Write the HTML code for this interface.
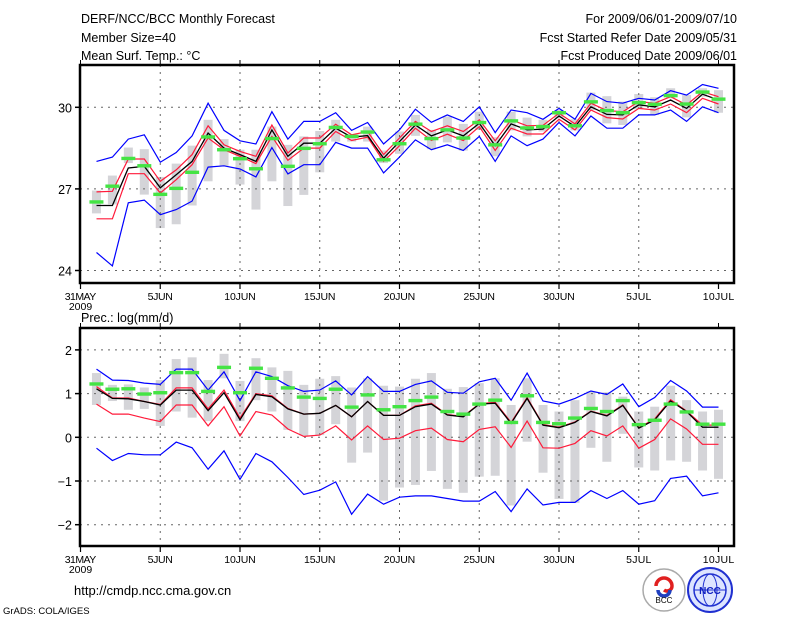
<!DOCTYPE html>
<html><head><meta charset="utf-8">
<style>
html,body{margin:0;padding:0;background:#fff;}
body{width:800px;height:618px;overflow:hidden;position:relative;font-family:"Liberation Sans",sans-serif;}
svg{position:absolute;left:0;top:0;}
</style></head>
<body>
<svg id="chart" width="800" height="618" viewBox="0 0 800 618"></svg>
<script>
// ---------- data ----------
const days = [1,2,3,4,5,6,7,8,9,10,11,12,13,14,15,16,17,18,19,20,21,22,23,24,25,26,27,28,29,30,31,32,33,34,35,36,37,38,39,40];
const xTickDays = [0,5,10,15,20,25,30,35,40];
const xTickLabels = ["31MAY","5JUN","10JUN","15JUN","20JUN","25JUN","30JUN","5JUL","10JUL"];
const tempTicks = [24,27,30];
const precTicks = [-2,-1,0,1,2];

// temperature
const tMean = [26.39,26.39,27.77,27.83,27.04,27.52,28.01,29.05,28.5,28.26,28.01,29.17,28.2,28.68,28.68,29.23,28.9,28.96,28.13,28.74,29.35,28.95,29.17,28.95,29.41,28.59,29.39,29.17,29.2,29.68,29.29,30.02,29.74,29.72,30.09,30.02,30.27,29.96,30.48,30.27];
const tRedHi = [26.89,26.91,28.1,28.1,27.28,27.7,28.26,29.32,28.62,28.38,28.2,29.35,28.32,28.87,28.87,29.38,28.99,29.11,28.26,28.87,29.48,29.11,29.32,29.11,29.54,28.77,29.54,29.32,29.34,29.78,29.39,30.15,29.88,29.84,30.21,30.15,30.39,30.09,30.57,30.39];
const tRedLo = [25.9,25.9,27.56,27.56,26.85,27.34,27.89,28.87,28.44,28.2,27.93,28.93,28.05,28.5,28.5,29.11,28.78,28.9,28.01,28.59,29.23,28.78,29.01,28.78,29.29,28.41,29.23,29.02,29.02,29.56,29.17,29.9,29.62,29.57,29.96,29.9,30.12,29.8,30.33,30.12];
const tBlueHi = [28.01,28.17,28.83,28.99,27.98,28.34,28.95,30.15,29.15,28.77,28.65,29.84,28.83,29.48,29.48,29.8,29.15,29.44,28.65,29.17,29.93,29.45,29.72,29.48,30.02,29.07,29.9,29.8,29.56,29.96,29.56,30.51,30.21,30.15,30.33,30.27,30.61,30.45,30.84,30.7];
const tBlueLo = [24.66,24.17,26.49,26.59,26.05,26.24,26.55,27.8,27.85,27.73,27.44,28.52,27.55,27.89,27.89,28.71,28.5,28.5,27.59,28.17,28.8,28.44,28.62,28.41,28.93,28.01,28.95,28.59,28.83,29.44,28.95,29.68,29.23,29.23,29.72,29.72,29.9,29.48,30.02,29.8];
const tGreen = [26.52,27.1,28.12,27.85,26.8,27.02,27.61,28.91,28.44,28.11,27.74,28.85,27.83,28.49,28.66,29.26,28.93,29.09,28.07,28.66,29.38,28.85,29.17,28.87,29.44,28.62,29.5,29.24,29.29,29.8,29.32,30.2,29.88,29.8,30.17,30.11,30.43,30.12,30.56,30.3];
const tBoxHi = [26.94,27.49,28.52,28.46,27.44,27.93,28.59,29.54,28.83,28.44,28.44,29.29,28.62,28.93,29.13,29.54,28.99,29.29,28.41,29.11,29.72,29.17,29.66,29.39,29.84,28.9,29.84,29.62,29.54,29.9,29.56,30.54,30.41,30.21,30.49,30.37,30.7,30.45,30.7,30.63];
const tBoxLo = [26.1,26.43,27.95,26.79,25.56,25.7,26.39,27.28,27.85,27.16,26.24,27.28,26.37,26.78,27.61,28.74,28.74,28.74,27.95,28.29,28.95,28.46,28.71,28.41,29.17,28.2,29.15,28.93,29.11,29.6,29.15,29.9,29.41,29.35,29.93,29.72,30.33,29.63,30.39,29.8];

// precipitation
const pMean = [1.11,0.89,0.88,0.82,0.74,1.08,1.08,0.61,1.02,0.4,0.98,0.93,0.65,0.53,0.55,0.73,0.47,0.82,0.5,0.5,0.7,0.76,0.51,0.47,0.76,0.78,0.32,0.89,0.28,0.22,0.34,0.59,0.49,0.73,0.21,0.4,0.83,0.59,0.23,0.23];
const pRedHi = [1.16,0.9,0.9,0.82,0.75,1.13,1.13,0.65,1.08,0.44,1.0,0.95,0.66,0.53,0.55,0.73,0.47,0.82,0.5,0.5,0.72,0.78,0.52,0.48,0.77,0.8,0.34,0.91,0.29,0.23,0.35,0.6,0.5,0.74,0.22,0.42,0.86,0.6,0.28,0.28];
const pRedLo = [0.76,0.53,0.53,0.44,0.36,0.74,0.74,0.26,0.7,0.03,0.59,0.51,0.19,0.02,0.05,0.26,-0.06,0.26,-0.05,-0.02,0.15,0.21,-0.05,-0.1,0.18,0.24,-0.23,0.37,-0.24,-0.25,-0.14,0.15,0.03,0.26,-0.25,-0.05,0.42,0.19,-0.16,-0.16];
const pBlueHi = [1.56,1.31,1.3,1.24,1.21,1.56,1.56,1.08,1.5,0.84,1.5,1.39,1.18,1.05,1.08,1.29,0.97,1.39,1.05,1.05,1.21,1.29,1.03,1.01,1.27,1.35,0.85,1.47,0.83,0.76,0.89,1.06,0.98,1.22,0.7,0.91,1.3,1.06,0.69,0.69];
const pBlueLo = [-0.25,-0.53,-0.37,-0.4,-0.4,-0.11,-0.24,-0.73,-0.31,-0.96,-0.37,-0.56,-0.92,-1.31,-1.21,-1.02,-1.76,-1.3,-1.53,-1.37,-1.34,-1.34,-1.4,-1.46,-1.46,-1.24,-1.7,-1.18,-1.55,-1.49,-1.49,-1.22,-1.4,-1.22,-1.53,-1.45,-0.94,-0.89,-1.34,-1.27];
const pGreen = [1.22,1.1,1.11,0.99,1.02,1.48,1.48,1.05,1.6,1.02,1.58,1.35,1.13,0.92,0.89,1.1,0.69,0.97,0.63,0.7,0.84,0.92,0.59,0.53,0.76,0.85,0.34,0.95,0.34,0.31,0.44,0.66,0.59,0.84,0.29,0.39,0.76,0.58,0.3,0.3];
const pBoxHi = [1.47,1.2,1.21,1.14,1.31,1.79,1.83,1.31,1.91,1.29,1.81,1.6,1.52,1.2,1.34,1.4,1.14,1.35,1.18,1.16,1.34,1.47,1.11,1.15,1.24,1.35,0.74,1.35,0.74,0.59,0.85,1.05,1.03,0.93,0.59,0.7,1.18,0.85,0.59,0.63];
const pBoxLo = [0.74,0.83,0.63,0.65,0.26,0.59,0.45,0.37,1.35,0.37,0.85,0.59,0.17,0.04,0.05,0.3,-0.58,-0.35,-1.45,-1.15,-1.09,-0.77,-1.18,-1.27,-0.9,-0.88,-1.56,-0.1,-0.81,-1.41,-1.5,-0.24,-0.56,0.08,-0.69,-0.76,-0.53,-0.56,-0.76,-0.95];

// ---------- drawing ----------
const NS = "http://www.w3.org/2000/svg";
const svg = document.getElementById("chart");
const X0 = 80, X1 = 734;
function xDay(d){ return 80.5 + 15.95*d; }
function yT(v){ return 107.3 + (30 - v)*27.2; }
function yP(v){ return 437.3 - v*43.7; }
function mk(tag, attrs, parent){
  const e = document.createElementNS(NS, tag);
  for (const k in attrs) e.setAttribute(k, attrs[k]);
  (parent||svg).appendChild(e);
  return e;
}
function txt(s, x, y, size, anchor, name){
  const t = mk("text", {x:x, y:y, "font-size":size, "text-anchor":anchor||"start", fill:"#000", "font-family":"Liberation Sans, sans-serif"});
  t.textContent = s;
  
  
  return t;
}

// header
txt("DERF/NCC/BCC Monthly Forecast", 81, 23, 12.5, "start", "chart-title");
txt("Member Size=40", 81, 42, 12.5, "start", "member-size-label");
txt("Mean Surf. Temp.: \u00B0C", 81, 60, 12.5, "start", "temperature-panel-title");
txt("For 2009/06/01-2009/07/10", 737, 23, 12.5, "end", "forecast-period-label");
txt("Fcst Started Refer Date 2009/05/31", 737, 42, 12.5, "end", "start-date-label");
txt("Fcst Produced Date 2009/06/01", 737, 60, 12.5, "end", "produced-date-label");
txt("Prec.: log(mm/d)", 81, 322, 12.5, "start", "precipitation-panel-title");

function panel(name, yTop, yBot, yFn, yTicks, tickLbl, hi, lo, bhi, blo, mean, rhi, rlo, grn, bxh, bxl){
  const g = mk("g", {});
  
  
  // gray boxes
  days.forEach((d,i)=>{
    const a = yFn(bxh[i]), b = yFn(bxl[i]);
    const r = mk("rect", {x:xDay(d)-4.5, y:Math.min(a,b), width:9, height:Math.max(1,Math.abs(b-a)), fill:"#d4d4d8"}, g);
    
    
  });
  // grid
  yTicks.forEach(v=>{
    const l = mk("line", {x1:X0, x2:X1, y1:yFn(v), y2:yFn(v), stroke:"#666", "stroke-width":1, "stroke-dasharray":"2,5"}, g);
    
    
    const tk = mk("line", {x1:X0-5, x2:X0, y1:yFn(v), y2:yFn(v), stroke:"#000", "stroke-width":1.5}, g);
    
    
    const t = txt(String(v).replace("-", "\u2212"), X0-8, yFn(v)+5, 12.5, "end", "y-tick-label");
    g.appendChild(t);
  });
  xTickDays.forEach((d,i)=>{
    if (i>0 && i<xTickDays.length-1){
      const l = mk("line", {x1:xDay(d), x2:xDay(d), y1:yTop, y2:yBot, stroke:"#666", "stroke-width":1, "stroke-dasharray":"2,5"}, g);
      
      
    }
    const tk = mk("line", {x1:xDay(d), x2:xDay(d), y1:yBot, y2:yBot+6, stroke:"#000", "stroke-width":1.2}, g);
    
    
    const tk2 = mk("line", {x1:xDay(d), x2:xDay(d), y1:yTop-5, y2:yTop, stroke:"#000", "stroke-width":1}, g);
    
    
    const t = txt(xTickLabels[i], xDay(d), yBot+17, 10.5, "middle", "x-tick-label");
    t.setAttribute("textLength", xTickLabels[i].length*6.3);
    g.appendChild(t);
  });
  g.appendChild(txt("2009", xDay(0), yBot+27, 10.5, "middle", "x-year-label"));
  function line(arr, color, w, nm){
    const pts = days.map((d,i)=>xDay(d).toFixed(1)+","+yFn(arr[i]).toFixed(1)).join(" ");
    const p = mk("polyline", {points:pts, fill:"none", stroke:color, "stroke-width":w}, g);
    
    
  }
  line(hi, "#0000ff", 1.2, "max-line");
  line(lo, "#0000ff", 1.2, "min-line");
  line(rhi, "#ff1a3a", 1.2, "upper-spread-line");
  line(rlo, "#ff1a3a", 1.2, "lower-spread-line");
  line(mean, "#000", 1.3, "ensemble-mean-line");
  days.forEach((d,i)=>{
    const r = mk("rect", {x:xDay(d)-7, y:yFn(grn[i])-1.7, width:14, height:3.4, fill:"#44e444"}, g);
    
    
  });
  const f = mk("rect", {x:X0, y:yTop, width:X1-X0, height:yBot-yTop, fill:"none", stroke:"#000", "stroke-width":2.5}, g);
  
  
}
panel("temperature-panel", 65, 283, yT, tempTicks, null, tBlueHi, tBlueLo, null, null, tMean, tRedHi, tRedLo, tGreen, tBoxHi, tBoxLo);
panel("precipitation-panel", 328, 546, yP, precTicks, null, pBlueHi, pBlueLo, null, null, pMean, pRedHi, pRedLo, pGreen, pBoxHi, pBoxLo);

// footer
txt("http://cmdp.ncc.cma.gov.cn", 74, 595, 13, "start", "website-url");
txt("GrADS: COLA/IGES", 3, 614, 9.5, "start", "grads-credit");

// logos
const lg = mk("g", {});


mk("circle", {cx:664, cy:590, r:21, fill:"#fff", stroke:"#aaa", "stroke-width":1.5}, lg);
mk("path", {d:"M656 586 a8 8 0 1 1 16 0 a5 5 0 0 1 -8 4", fill:"none", stroke:"#e02020", "stroke-width":3.5}, lg);
mk("path", {d:"M658 590 a6 6 0 0 0 12 0", fill:"none", stroke:"#2040c0", "stroke-width":3.5}, lg);
const bt = txt("BCC", 664, 603, 8, "middle", "bcc-logo-text");
lg.appendChild(bt);
const ng = mk("g", {});


mk("circle", {cx:710, cy:590, r:22, fill:"#dde4ff", stroke:"#2030d0", "stroke-width":2}, ng);
mk("ellipse", {cx:710, cy:590, rx:16, ry:16, fill:"none", stroke:"#2030d0", "stroke-width":1.5}, ng);
mk("line", {x1:694, y1:590, x2:726, y2:590, stroke:"#2030d0", "stroke-width":1}, ng);
mk("ellipse", {cx:710, cy:590, rx:7, ry:16, fill:"none", stroke:"#2030d0", "stroke-width":1}, ng);
const nt = txt("NCC", 710, 594, 10, "middle", "ncc-logo-text");
nt.setAttribute("fill", "#1020c0");
nt.setAttribute("font-weight", "bold");
ng.appendChild(nt);
</script>
</body></html>
